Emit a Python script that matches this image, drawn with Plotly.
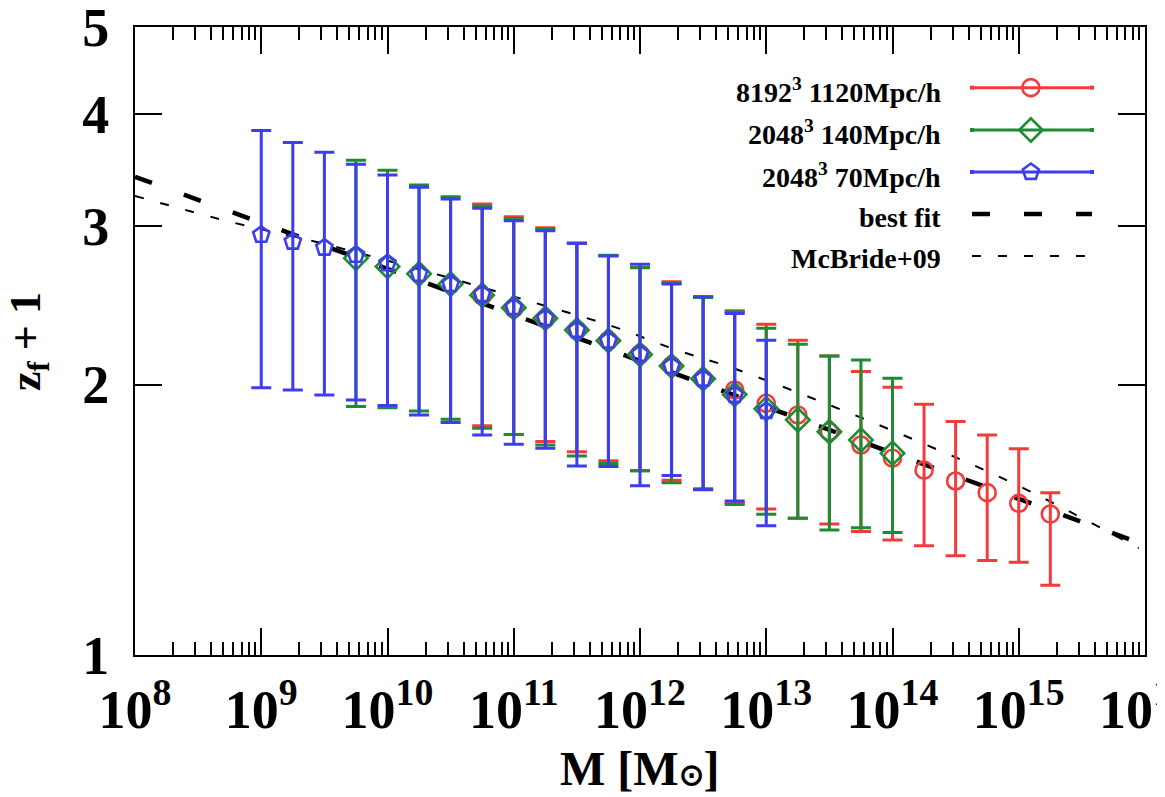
import numpy as np
import plotly.graph_objects as go

# ---------------- data ----------------
# log10 of halo mass [Msun]
logM_red = [10.75, 11.0, 11.25, 11.5, 11.75, 12.0, 12.25, 12.5, 12.75, 13.0,
            13.25, 13.5, 13.75, 14.0, 14.25, 14.5, 14.75, 15.0, 15.25]
med_red = [2.51, 2.43, 2.365, 2.30, 2.24, 2.165, 2.10, 2.03, 1.972, 1.906,
           1.85, 1.772, 1.713, 1.656, 1.606, 1.562, 1.516, 1.475, 1.435]
up_red = [3.177, 3.075, 2.99, 2.872, 2.785, 2.70, 2.603, 2.505, 2.416, 2.334,
          2.24, 2.152, 2.068, 1.986, 1.901, 1.819, 1.757, 1.696, 1.516]
lo_red = [1.799, 1.76, 1.728, 1.684, 1.645, 1.604, 1.565, 1.53, 1.475, 1.454,
          1.42, 1.399, 1.372, 1.343, 1.323, 1.29, 1.274, 1.268, 1.196]

logM_green = [9.75, 10.0, 10.25, 10.5, 10.75, 11.0, 11.25, 11.5, 11.75, 12.0,
              12.25, 12.5, 12.75, 13.0, 13.25, 13.5, 13.75, 14.0]
med_green = [2.765, 2.706, 2.656, 2.587, 2.515, 2.435, 2.37, 2.30, 2.238, 2.16,
             2.097, 2.03, 1.95, 1.88, 1.827, 1.772, 1.735, 1.677]
up_green = [3.553, 3.463, 3.336, 3.236, 3.161, 3.06, 2.98, 2.872, 2.783, 2.698,
            2.595, 2.50, 2.41, 2.31, 2.218, 2.152, 2.13, 2.032]
lo_green = [1.89, 1.885, 1.869, 1.83, 1.788, 1.76, 1.713, 1.665, 1.634, 1.604,
            1.555, 1.53, 1.471, 1.434, 1.42, 1.378, 1.386, 1.369]

logM_blue = [9.0, 9.25, 9.5, 9.75, 10.0, 10.25, 10.5, 10.75, 11.0, 11.25,
             11.5, 11.75, 12.0, 12.25, 12.5, 12.75, 13.0]
med_blue = [2.935, 2.884, 2.84, 2.788, 2.729, 2.656, 2.587, 2.521, 2.438, 2.371,
            2.30, 2.238, 2.163, 2.097, 2.03, 1.947, 1.869]
up_blue = [3.834, 3.72, 3.627, 3.517, 3.421, 3.316, 3.218, 3.142, 3.043, 2.967,
           2.872, 2.78, 2.722, 2.588, 2.505, 2.40, 2.24]
lo_blue = [1.983, 1.972, 1.947, 1.922, 1.895, 1.85, 1.814, 1.757, 1.716, 1.699,
           1.623, 1.621, 1.543, 1.584, 1.527, 1.484, 1.393]

# best-fit power law (end points)
logM_fit = [8.0, 16.0]
val_fit = [3.406, 1.326]

# McBride+09 curve
logM_mcb = [8.0, 8.79, 9.43, 10.36, 11.18, 11.79, 12.29, 12.74, 13.5, 14.27, 15.01, 15.95]
val_mcb = [3.243, 3.026, 2.884, 2.66, 2.463, 2.32, 2.185, 2.085, 1.898, 1.713, 1.54, 1.315]

labels = ["8192<sup>3</sup> 1120Mpc/h", "2048<sup>3</sup> 140Mpc/h",
          "2048<sup>3</sup> 70Mpc/h", "best fit", "McBride+09"]

x_title = "M [M<span style='font-size:30px'>⊙</span>]"
y_title = "z<sub>f</sub> + 1"

x_tick_exp = list(range(8, 17))
y_ticks = [1, 2, 3, 4, 5]

# ---------------- style ----------------
RED = "#f23c3c"
GREEN = "#1e8c32"
BLUE = "#3c3cf0"
FONT = "Liberation Serif"

fig = go.Figure()

def series(logm, med, up, lo, color, symbol, size):
    x = [10 ** v for v in logm]
    med = np.array(med)
    plus = np.array(up) - med
    minus = med - np.array(lo)
    return go.Scatter(
        x=x, y=med, mode="markers", showlegend=False,
        marker=dict(symbol=symbol, size=size, color=color,
                    line=dict(width=2.6, color=color)),
        error_y=dict(type="data", symmetric=False, array=plus, arrayminus=minus,
                     color=color, thickness=3, width=10),
    )

fig.add_trace(go.Scatter(x=[10 ** v for v in logM_fit], y=val_fit, mode="lines",
                         showlegend=False,
                         line=dict(color="black", width=4.5, dash="18px,34px")))
fig.add_trace(go.Scatter(x=[10 ** v for v in logM_mcb], y=val_mcb, mode="lines",
                         showlegend=False, line_shape="spline",
                         line=dict(color="black", width=2, dash="9px,17px")))

fig.add_trace(series(logM_red, med_red, up_red, lo_red, RED, "circle-open", 17))
fig.add_trace(series(logM_green, med_green, up_green, lo_green, GREEN, "diamond-open", 18))
fig.add_trace(series(logM_blue, med_blue, up_blue, lo_blue, BLUE, "pentagon-open", 17))

# ---------------- gnuplot-style key (overlay axes, 0..1 = plot area) --------
key_x0, key_x1, key_xm = 0.8287, 0.9475, 0.887
rows = [0.9034, 0.8360, 0.7691, 0.7022, 0.6354]
for color, sym, size, ry in [(RED, "circle-open", 17, rows[0]),
                             (GREEN, "diamond-open", 18, rows[1]),
                             (BLUE, "pentagon-open", 17, rows[2])]:
    fig.add_trace(go.Scatter(x=[key_x0, key_x1], y=[ry, ry], mode="lines+markers",
                             xaxis="x2", yaxis="y2", showlegend=False, hoverinfo="skip",
                             line=dict(color=color, width=3),
                             marker=dict(symbol="square", size=4, color=color)))
    fig.add_trace(go.Scatter(x=[key_xm], y=[ry], mode="markers",
                             xaxis="x2", yaxis="y2", showlegend=False, hoverinfo="skip",
                             marker=dict(symbol=sym, size=size, color=color,
                                         line=dict(width=2.6, color=color))))
fig.add_trace(go.Scatter(x=[key_x0, key_x1], y=[rows[3], rows[3]], mode="lines",
                         xaxis="x2", yaxis="y2", showlegend=False, hoverinfo="skip",
                         line=dict(color="black", width=4.5, dash="18px,34px")))
fig.add_trace(go.Scatter(x=[key_x0, key_x1], y=[rows[4], rows[4]], mode="lines",
                         xaxis="x2", yaxis="y2", showlegend=False, hoverinfo="skip",
                         line=dict(color="black", width=2, dash="9px,17px")))

annotations = []
for lab, ry in zip(labels, rows):
    annotations.append(dict(x=0.80, y=ry, xref="paper", yref="paper", text=lab,
                            showarrow=False, xanchor="right", yanchor="middle",
                            yshift=-3,
                            font=dict(family=FONT, size=28, color="black", weight="bold")))

# axis titles as annotations (paper coords relative to the plot area)
annotations.append(dict(x=0.5, y=-0.180, xref="paper", yref="paper", text=x_title,
                        showarrow=False, xanchor="center", yanchor="middle",
                        font=dict(family=FONT, size=48, color="black", weight="bold")))
annotations.append(dict(x=-0.106, y=0.5, xref="paper", yref="paper", text=y_title,
                        showarrow=False, xanchor="center", yanchor="middle",
                        textangle=-90,
                        font=dict(family=FONT, size=44, color="black", weight="bold")))

minor_x = [m * 10 ** e for e in range(8, 16) for m in range(2, 10)]

axis_common = dict(showline=True, linecolor="black", linewidth=2, mirror="allticks",
                   ticks="inside", tickcolor="black", tickwidth=1.6, ticklen=27,
                   showgrid=False, zeroline=False, automargin=False,
                   ticklabeloverflow="allow",
                   tickfont=dict(family=FONT, size=54, color="black", weight="bold"))

# page body has an 8px margin: compensate so the plot area sits at
# x 135..1145, y 27..655 in the 1165x797 window
fig.update_layout(
    template="none",
    width=1157, height=797,
    margin=dict(l=127, r=20, t=19, b=150),
    paper_bgcolor="white", plot_bgcolor="white",
    showlegend=False,
    xaxis=dict(type="log", range=[8, 16],
               tickmode="array", tickvals=[10 ** e for e in x_tick_exp],
               ticktext=["10<sup>%d</sup>" % e for e in x_tick_exp],
               minor=dict(tickmode="array", tickvals=minor_x, ticks="inside",
                          ticklen=13, tickwidth=1.6, tickcolor="black", showgrid=False),
               ticklabelstandoff=6,
               **axis_common),
    yaxis=dict(type="log", range=[0, np.log10(5)],
               tickmode="array", tickvals=y_ticks, ticktext=[str(v) for v in y_ticks],
               ticklabelstandoff=13,
               **axis_common),
    xaxis2=dict(overlaying="x", anchor="y2", range=[0, 1], visible=False, fixedrange=True),
    yaxis2=dict(overlaying="y", anchor="x2", range=[0, 1], visible=False, fixedrange=True),
    annotations=annotations,
)

fig.write_html("out.html")
